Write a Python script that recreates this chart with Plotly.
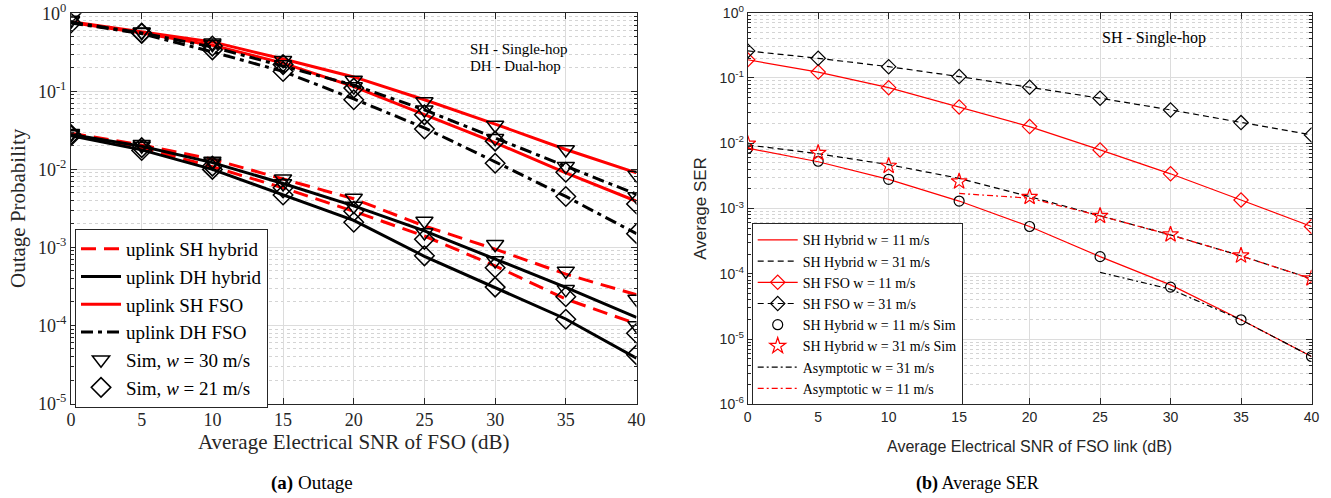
import math
import plotly.graph_objects as go

# ---------------- data: panel (a) Outage ----------------
snr = [0, 5, 10, 15, 20, 25, 30, 35, 40]

# analytic curves
sh_fso_w30 = [0.78, 0.58, 0.43, 0.26, 0.153, 0.078, 0.038, 0.018, 0.009]
sh_fso_w21 = [0.76, 0.56, 0.39, 0.23, 0.115, 0.050, 0.022, 0.009, 0.0039]
dh_fso_w30 = [0.77, 0.56, 0.37, 0.21, 0.120, 0.058, 0.025, 0.011, 0.0048]
dh_fso_w21 = [0.75, 0.55, 0.32, 0.18, 0.080, 0.034, 0.0125, 0.0045, 0.0015]
sh_hyb_w30 = [0.029, 0.0205, 0.0135, 0.0076, 0.0042, 0.00188, 0.00095, 0.000455, 0.000247]
sh_hyb_w21 = [0.028, 0.019, 0.0108, 0.0058, 0.0029, 0.0014, 0.00058, 0.000218, 0.000105]
dh_hyb_w30 = [0.028, 0.0198, 0.0122, 0.0066, 0.0034, 0.00163, 0.00071, 0.000308, 0.000127]
dh_hyb_w21 = [0.027, 0.0178, 0.0100, 0.0047, 0.00222, 0.00077, 0.000308, 0.000121, 0.000038]

# simulation points
sim30_sh_fso = [0.82, 0.58, 0.42, 0.25, 0.140, 0.074, 0.037, 0.018, 0.0085]
sim30_dh_fso = [0.80, 0.57, 0.40, 0.22, 0.115, 0.058, 0.025, 0.011, 0.0045]
sim21_sh_fso = [1.00, 0.56, 0.38, 0.22, 0.110, 0.050, 0.023, 0.0092, 0.0036]
sim21_dh_fso = [0.75, 0.55, 0.34, 0.18, 0.078, 0.033, 0.012, 0.0045, 0.0015]
sim30_sh_hyb = [0.029, 0.021, 0.0128, 0.0076, 0.0043, 0.00218, 0.0011, 0.0005, 0.000218]
sim30_dh_hyb = [0.028, 0.020, 0.0122, 0.0066, 0.0034, 0.00155, 0.00068, 0.00029, 0.0001]
sim21_sh_hyb = [0.028, 0.019, 0.0110, 0.0058, 0.0029, 0.00127, 0.00055, 0.000233, 0.0000795]
sim21_dh_hyb = [0.027, 0.0175, 0.0100, 0.0047, 0.0021, 0.00078, 0.00031, 0.00012, 0.000042]

# ---------------- data: panel (b) Average SER ----------------
ser_fso_w31 = [0.26, 0.20, 0.149, 0.105, 0.072, 0.049, 0.0324, 0.0207, 0.0134]
ser_fso_w11 = [0.19, 0.123, 0.071, 0.036, 0.018, 0.0079, 0.0034, 0.00135, 0.00053]
ser_hyb_w31 = [0.0094, 0.0069, 0.0047, 0.0029, 0.00152, 0.00077, 0.000394, 0.000188, 0.0000836]
ser_hyb_w11 = [0.0084, 0.0052, 0.0028, 0.0013, 0.00053, 0.000183, 0.0000676, 0.0000197, 0.0000054]
ser_sim_w11 = [0.0084, 0.0053, 0.0028, 0.0013, 0.00053, 0.000183, 0.0000625, 0.0000197, 0.0000054]
ser_sim_w31 = [0.0098, 0.0071, 0.0045, 0.0026, 0.0015, 0.00077, 0.0004, 0.00019, 0.000085]
asym_w31_snr = [25, 30, 35, 40]
asym_w31 = [0.000105, 0.000058, 0.0000197, 0.0000054]
asym_w11_snr = [15, 20, 25, 30, 35, 40]
asym_w11 = [0.0017, 0.00144, 0.00077, 0.000394, 0.000188, 0.0000836]

RED = "#ff0000"
BLK = "#000000"
SERIF = "Liberation Serif"
SANS = "Liberation Sans"

fig = go.Figure()

# ---------- panel (a) ----------
LW = 3
dash_red = "15px,8px"
dashdot_blk = "12px,5px,4px,5px"
lines_a = [
    (sh_hyb_w30, RED, dash_red), (sh_hyb_w21, RED, dash_red),
    (dh_hyb_w30, BLK, "solid"), (dh_hyb_w21, BLK, "solid"),
    (sh_fso_w30, RED, "solid"), (sh_fso_w21, RED, "solid"),
    (dh_fso_w30, BLK, dashdot_blk), (dh_fso_w21, BLK, dashdot_blk),
]
for y, c, d in lines_a:
    fig.add_trace(go.Scatter(x=snr, y=y, mode="lines", line=dict(color=c, width=LW, dash=d),
                             showlegend=False, xaxis="x", yaxis="y"))
tri = dict(symbol="triangle-down-open", size=15, color=BLK, line=dict(width=1.5, color=BLK))
dia = dict(symbol="diamond-open", size=15, color=BLK, line=dict(width=1.5, color=BLK))
for y in [sim30_sh_fso, sim30_dh_fso, sim30_sh_hyb, sim30_dh_hyb]:
    fig.add_trace(go.Scatter(x=snr, y=y, mode="markers", marker=tri, showlegend=False, xaxis="x", yaxis="y"))
for y in [sim21_sh_fso, sim21_dh_fso, sim21_sh_hyb, sim21_dh_hyb]:
    fig.add_trace(go.Scatter(x=snr, y=y, mode="markers", marker=dia, showlegend=False, xaxis="x", yaxis="y"))

# legend entries (a)
leg_a = [
    ("uplink SH hybrid", dict(mode="lines", line=dict(color=RED, width=LW, dash=dash_red))),
    ("uplink DH hybrid", dict(mode="lines", line=dict(color=BLK, width=LW))),
    ("uplink SH FSO", dict(mode="lines", line=dict(color=RED, width=LW))),
    ("uplink DH FSO", dict(mode="lines", line=dict(color=BLK, width=LW, dash=dashdot_blk))),
    ("Sim, <i>w</i> = 30 m/s", dict(mode="markers", marker=tri)),
    ("Sim, <i>w</i> = 21 m/s", dict(mode="markers", marker=dia)),
]
for name, kw in leg_a:
    fig.add_trace(go.Scatter(x=[None], y=[None], name=name, legend="legend", xaxis="x", yaxis="y", **kw))

# ---------- panel (b) ----------
lw = 1.2
dsh = "6px,4px"
ddot = "6px,3px,2px,3px"
b_traces = [
    ("SH Hybrid w = 11 m/s", snr, ser_hyb_w11, dict(mode="lines", line=dict(color=RED, width=lw))),
    ("SH Hybrid w = 31 m/s", snr, ser_hyb_w31, dict(mode="lines", line=dict(color=BLK, width=lw, dash=dsh))),
    ("SH FSO w = 11 m/s", snr, ser_fso_w11, dict(mode="lines+markers", line=dict(color=RED, width=lw),
                                                 marker=dict(symbol="diamond-open", size=11, color=RED, line=dict(width=1.2, color=RED)))),
    ("SH FSO w = 31 m/s", snr, ser_fso_w31, dict(mode="lines+markers", line=dict(color=BLK, width=lw, dash=dsh),
                                                 marker=dict(symbol="diamond-open", size=11, color=BLK, line=dict(width=1.2, color=BLK)))),
    ("SH Hybrid w = 11 m/s Sim", snr, ser_sim_w11, dict(mode="markers",
                                                       marker=dict(symbol="circle-open", size=10, color=BLK, line=dict(width=1.2, color=BLK)))),
    ("SH Hybrid w = 31 m/s Sim", snr, ser_sim_w31, dict(mode="markers",
                                                       marker=dict(symbol="star-open", size=12, color=RED, line=dict(width=1.2, color=RED)))),
    ("Asymptotic w = 31 m/s", asym_w31_snr, asym_w31, dict(mode="lines", line=dict(color=BLK, width=lw, dash=ddot))),
    ("Asymptotic w = 11 m/s", asym_w11_snr, asym_w11, dict(mode="lines", line=dict(color=RED, width=lw, dash=ddot))),
]
for name, x, y, kw in b_traces:
    fig.add_trace(go.Scatter(x=x, y=y, name=name, legend="legend2", xaxis="x2", yaxis="y2", **kw))

# ---------- axes ----------
W, H = 1331, 498
def px_x(p): return p / W
def px_y(p): return 1 - p / H

major_a = [10.0 ** e for e in range(-5, 1)]
major_b = [10.0 ** e for e in range(-6, 1)]
minor_a = [k * 10.0 ** e for e in range(-5, 0) for k in range(2, 10)]
minor_b = [k * 10.0 ** e for e in range(-6, 0) for k in range(2, 10)]
def ticktext(vals):
    return ["10<sup>%d</sup>" % int(round(math.log10(v))) for v in vals]

AX = "#262626"
GRID = "#dcdcdc"
common_x = dict(range=[0, 40], tickvals=snr, ticks="inside", ticklen=6, tickcolor=AX,
                showline=True, linecolor=AX, linewidth=1, mirror="ticks", automargin=False,
                showgrid=True, gridcolor=GRID, gridwidth=1, zeroline=False)
common_y = dict(type="log", ticks="inside", ticklen=6, tickcolor=AX, automargin=False,
                showline=True, linecolor=AX, linewidth=1, mirror="ticks",
                showgrid=True, gridcolor=GRID, zeroline=False)

fig.update_layout(
    width=W, height=H, margin=dict(l=0, r=0, t=0, b=0, autoexpand=False),
    paper_bgcolor="white", plot_bgcolor="white",
    xaxis=dict(domain=[px_x(71), px_x(636.5)], anchor="y",
               tickfont=dict(family=SERIF, size=18, color="#262626"),
               title=dict(text="Average Electrical SNR of FSO (dB)", font=dict(family=SERIF, size=21, color="#262626"), standoff=3),
               **common_x),
    yaxis=dict(domain=[px_y(403.5), px_y(13.3)], anchor="x", range=[-5, 0],
               tickvals=major_a, ticktext=ticktext(major_a),
               tickfont=dict(family=SERIF, size=18, color="#262626"),
               minor=dict(tickvals=minor_a, ticks="inside", ticklen=3, tickcolor=AX,
                          showgrid=True, gridcolor="#d4d4d4", griddash="dot", gridwidth=1),
               title=dict(text="Outage Probability", font=dict(family=SERIF, size=21, color="#262626"), standoff=6),
               **common_y),
    xaxis2=dict(domain=[px_x(747.7), px_x(1311.5)], anchor="y2",
                tickfont=dict(family=SANS, size=14, color="#262626"),
                title=dict(text="Average Electrical SNR of FSO link (dB)", font=dict(family=SANS, size=16, color="#262626"), standoff=16),
                **common_x),
    yaxis2=dict(domain=[px_y(404.3), px_y(12.7)], anchor="x2", range=[-6, 0],
                tickvals=major_b, ticktext=ticktext(major_b),
                tickfont=dict(family=SANS, size=14, color="#262626"),
                minor=dict(tickvals=minor_b, ticks="inside", ticklen=3, tickcolor=AX,
                           showgrid=True, gridcolor="#d4d4d4", griddash="dot", gridwidth=1),
                title=dict(text="Average SER", font=dict(family=SANS, size=17, color="#262626"), standoff=8),
                **common_y),
    legend=dict(x=px_x(75), y=px_y(229), xanchor="left", yanchor="top",
                bgcolor="white", bordercolor=AX, borderwidth=1,
                font=dict(family=SERIF, size=19, color="#000"), tracegroupgap=0, itemwidth=40),
    legend2=dict(x=px_x(751.7), y=px_y(223.3), xanchor="left", yanchor="top",
                 bgcolor="white", bordercolor=AX, borderwidth=1,
                 font=dict(family=SERIF, size=14, color="#000"), tracegroupgap=0, itemwidth=40),
    annotations=[
        dict(text="SH - Single-hop", x=px_x(468), y=px_y(49), xref="paper", yref="paper",
             xanchor="left", yanchor="middle", showarrow=False, font=dict(family=SERIF, size=15, color="#000")),
        dict(text="DH - Dual-hop", x=px_x(468), y=px_y(66), xref="paper", yref="paper",
             xanchor="left", yanchor="middle", showarrow=False, font=dict(family=SERIF, size=15, color="#000")),
        dict(text="SH - Single-hop", x=px_x(1100), y=px_y(37.5), xref="paper", yref="paper",
             xanchor="left", yanchor="middle", showarrow=False, font=dict(family=SERIF, size=16, color="#000")),
        dict(text="<b>(a)</b> Outage", x=px_x(312), y=px_y(483), xref="paper", yref="paper",
             xanchor="center", yanchor="middle", showarrow=False, font=dict(family=SERIF, size=19, color="#000")),
        dict(text="<b>(b)</b> Average SER", x=px_x(978), y=px_y(483), xref="paper", yref="paper",
             xanchor="center", yanchor="middle", showarrow=False, font=dict(family=SERIF, size=18, color="#000")),
    ],
)

fig.write_html("out.html", config={"displayModeBar": False},
               post_script="document.body.style.margin='0';document.body.style.overflow='hidden';")
